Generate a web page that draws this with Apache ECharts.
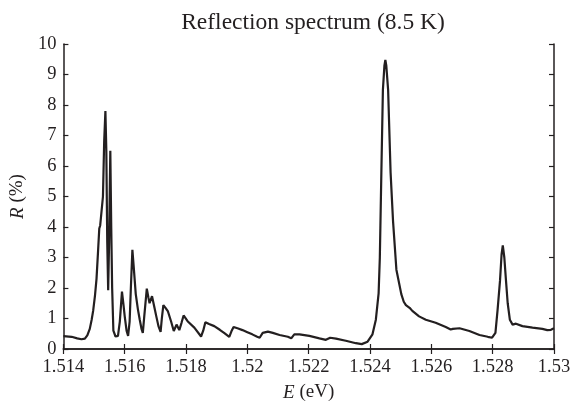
<!DOCTYPE html>
<html>
<head>
<meta charset="utf-8">
<script src="https://cdn.jsdelivr.net/npm/echarts@6/dist/echarts.min.js"></script>
<style>
html,body{margin:0;padding:0;background:#fff;}
#chart{width:575px;height:407px;}
</style>
</head>
<body>
<div id="chart"></div>
<script>
// Photon energy (eV)
var energy = [
1.5140,1.51427,1.51445,1.51459,1.5147,1.51478,1.51486,1.51492,1.51497,1.51503,
1.51508,1.51513,1.51517,1.5152,1.51526,1.51529,1.51533,1.51537,1.5154,1.51543,
1.51546,1.51549,1.51553,1.51556,1.51559,1.51563,1.5157,1.51578,1.51584,1.51591,
1.51596,1.516,1.51606,1.51611,1.51616,1.5162,1.51625,1.5163,1.51636,1.51643,
1.51649,1.51655,1.51659,1.51664,1.51672,1.51677,1.51681,1.51689,1.51696,1.51703,
1.5171,1.51717,1.51721,1.51726,1.51733,1.51741,1.51751,1.5176,1.51769,1.51773,
1.51778,1.51785,1.51792,1.51805,1.51827,1.51849,1.51856,1.51863,1.51875,1.51892,
1.5191,1.51924,1.51941,1.51948,1.51955,1.5197,1.51984,1.52,1.52016,1.52032,
1.5204,1.5205,1.52067,1.52083,1.52105,1.52132,1.52143,1.52153,1.5217,1.52202,
1.52235,1.52256,1.5227,1.52289,1.52321,1.52354,1.52373,1.52392,1.52408,1.52419,
1.52428,1.52432,1.52437,1.52442,1.52447,1.5245,1.52453,1.52459,1.52467,1.52475,
1.52486,1.52502,1.5251,1.52517,1.52529,1.52538,1.5256,1.52582,1.52614,1.52647,
1.52663,1.5267,1.52692,1.52724,1.52757,1.52784,1.52798,1.52809,1.52816,1.52824,
1.52829,1.52833,1.52838,1.52843,1.52849,1.52856,1.52865,1.52876,1.52897,1.5293,
1.52962,1.52978,1.5299,1.53
];
// Reflectance R (%)
var reflectance = [
0.42,0.40,0.35,0.32,0.34,0.45,0.66,0.95,1.25,1.75,
2.3,3.2,3.95,4.05,4.1,5.0,6.8,7.8,6.5,3.5,
1.93,3.5,6.5,4.0,2.0,0.6,0.41,0.43,0.9,1.88,
1.45,1.07,0.6,0.43,0.9,2.0,3.25,2.6,1.8,1.3,
0.96,0.65,0.53,1.1,1.98,1.7,1.5,1.73,1.4,1.07,
0.75,0.56,1.0,1.44,1.35,1.23,0.91,0.59,0.8,0.72,
0.62,0.85,1.10,0.91,0.7,0.41,0.6,0.88,0.82,0.75,
0.63,0.53,0.40,0.58,0.72,0.67,0.62,0.55,0.48,0.40,
0.37,0.53,0.57,0.53,0.46,0.40,0.35,0.48,0.48,0.43,
0.35,0.30,0.37,0.34,0.27,0.19,0.16,0.24,0.48,0.96,
1.82,3.0,5.8,8.5,9.3,9.48,9.3,8.5,5.8,4.2,
2.6,1.8,1.55,1.44,1.35,1.25,1.07,0.96,0.86,0.72,
0.64,0.66,0.68,0.59,0.46,0.40,0.37,0.53,1.28,2.25,
3.1,3.4,3.0,2.3,1.5,0.96,0.8,0.83,0.75,0.70,
0.66,0.62,0.63,0.68
];
var xTickLabels = ['1.514','1.516','1.518','1.52','1.522','1.524','1.526','1.528','1.53'];
var yTickLabels = ['0','1','2','3','4','5','6','7','8','9','10'];
var titleText = 'Reflection spectrum (8.5 K)';

var points = energy.map(function(e, i){ return [e, reflectance[i]]; });
var FONT = '"Liberation Serif", "Times New Roman", serif';
var INK = '#231f20';

function xFmt(v){
  var idx = Math.round((v - 1.514) / 0.002);
  return xTickLabels[idx] !== undefined ? xTickLabels[idx] : '';
}
function yFmt(v){
  var idx = Math.round(v);
  return yTickLabels[idx] !== undefined ? yTickLabels[idx] : '';
}

var axisCommonX = {
  type: 'value', min: 1.514, max: 1.53, interval: 0.002,
  splitLine: {show: false},
  axisLine: {show: true, lineStyle: {color: INK, width: 1.5}},
  axisTick: {show: true, inside: true, length: 5, lineStyle: {color: INK, width: 1.2}}
};
var axisCommonY = {
  type: 'value', min: 0, max: 10, interval: 1,
  splitLine: {show: false},
  axisLine: {show: true, lineStyle: {color: INK, width: 1.5}},
  axisTick: {show: true, inside: true, length: 5, lineStyle: {color: INK, width: 1.2}}
};

var chart = echarts.init(document.getElementById('chart'), null, {renderer: 'canvas'});
chart.setOption({
  animation: false,
  backgroundColor: '#ffffff',
  title: {
    text: titleText,
    left: 308, textAlign: 'center', top: 6,
    textStyle: {fontFamily: FONT, fontSize: 23.5, fontWeight: 'normal', color: INK}
  },
  grid: {left: 62, right: 21, top: 44, bottom: 54, containLabel: false},
  xAxis: [
    Object.assign({}, axisCommonX, {
      position: 'bottom',
      axisLabel: {show: true, formatter: xFmt, fontFamily: FONT, fontSize: 18.5, color: INK, margin: 9},
      name: '{i|E} (eV)', nameLocation: 'middle', nameGap: 34,
      nameTextStyle: {fontFamily: FONT, fontSize: 19, color: INK,
        rich: {i: {fontFamily: FONT, fontStyle: 'italic', fontSize: 19, color: INK}}}
    }),
    Object.assign({}, axisCommonX, {position: 'top', axisLabel: {show: false}})
  ],
  yAxis: [
    Object.assign({}, axisCommonY, {
      position: 'left',
      axisLabel: {show: true, formatter: yFmt, fontFamily: FONT, fontSize: 18.5, color: INK, margin: 7},
      name: '{i|R} (%)', nameLocation: 'middle', nameRotate: 90, nameGap: 34,
      nameTextStyle: {fontFamily: FONT, fontSize: 19, color: INK,
        rich: {i: {fontFamily: FONT, fontStyle: 'italic', fontSize: 19, color: INK}}}
    }),
    Object.assign({}, axisCommonY, {position: 'right', axisLabel: {show: false}})
  ],
  series: [{
    type: 'line',
    data: points,
    xAxisIndex: 0, yAxisIndex: 0,
    showSymbol: false,
    smooth: false,
    lineStyle: {color: INK, width: 2.2},
    clip: true
  }]
});
</script>
</body>
</html>
